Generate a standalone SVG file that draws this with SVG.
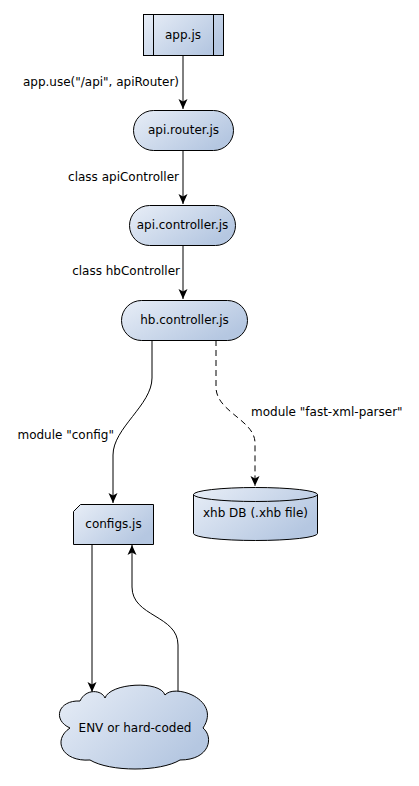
<svg xmlns="http://www.w3.org/2000/svg" width="419" height="786" viewBox="0 0 419 786">
<style>
text{font-family:"DejaVu Sans","Liberation Sans",sans-serif;font-size:12px;fill:#000}
.n{text-anchor:middle}
.l{text-anchor:end}
.s{fill:url(#g);stroke:#000;stroke-width:1}
.e{fill:none;stroke:#000;stroke-width:1}
.d{stroke-dasharray:6 4}
</style>
<defs>
<linearGradient id="g" x1="0" y1="0" x2="1" y2="0.6">
<stop offset="0" stop-color="#e8eef7"/>
<stop offset="1" stop-color="#b5c7e1"/>
</linearGradient>
<marker id="a" markerUnits="userSpaceOnUse" markerWidth="12" markerHeight="12" viewBox="0 0 12 12" refX="11" refY="6" orient="auto">
<path d="M1,1.5 L11,6 L1,10.5 L3.5,6 Z" fill="#000"/>
</marker>
</defs>
<g id="connectors">
<path class="e" d="M183 55 V109" marker-end="url(#a)"/>
<path class="e" d="M183 150 V204" marker-end="url(#a)"/>
<path class="e" d="M183 245 V299" marker-end="url(#a)"/>
<path class="e" d="M152 340 V378 C152 405 113 428 113 455 V503" marker-end="url(#a)"/>
<path class="e d" d="M216 340 V387 C216 412 255 420 255 443 V486" marker-end="url(#a)"/>
<path class="e" d="M92 544 V692" marker-end="url(#a)"/>
<path class="e" d="M178 692 V645 C178 615 132 617 132 587 V545" marker-end="url(#a)"/>
<text class="l" x="179" y="86">app.use("/api", apiRouter)</text>
<text class="l" x="179" y="181">class apiController</text>
<text class="l" x="180" y="275">class hbController</text>
<text class="l" x="114" y="439">module "config"</text>
<text x="251" y="416">module "fast-xml-parser"</text>
</g>
<g id="app">
<rect class="s" x="143.5" y="14.5" width="80" height="41"/>
<path class="e" d="M153.5 14.5 V55.5 M213.5 14.5 V55.5"/>
<text class="n" x="183" y="39">app.js</text>
</g>
<g id="router">
<rect class="s" x="133.5" y="110.5" width="100" height="40" rx="20"/>
<text class="n" x="183.5" y="134">api.router.js</text>
</g>
<g id="apicontroller">
<rect class="s" x="129.5" y="205.5" width="106" height="40" rx="20"/>
<text class="n" x="182.5" y="229">api.controller.js</text>
</g>
<g id="hbcontroller">
<rect class="s" x="121.5" y="300.5" width="126" height="40" rx="20"/>
<text class="n" x="184.5" y="324">hb.controller.js</text>
</g>
<g id="configs">
<path class="s" d="M80.5 504.5 H153.5 V544.5 H73.5 V511.5 Z"/>
<text class="n" x="113.5" y="528">configs.js</text>
</g>
<g id="db">
<path class="s" d="M193.5 494.5 A62 7 0 0 1 317.5 494.5 V533.5 A62 7 0 0 1 193.5 533.5 Z"/>
<path class="e" d="M193.5 494.5 A62 7 0 0 0 317.5 494.5"/>
<text class="n" x="255.5" y="517">xhb DB (.xhb file)</text>
</g>
<g id="env">
<path class="s" d="M105 698 C110 683 160 680 165 695 C175 683 222 700 203 728 C214 737 210 760 180 760 C160 772 110 772 90 760 C62 762 52 740 70 728 C52 720 58 700 80 701 C86 688 102 690 105 698 Z"/>
<text class="n" x="135" y="732">ENV or hard-coded</text>
</g>
</svg>
